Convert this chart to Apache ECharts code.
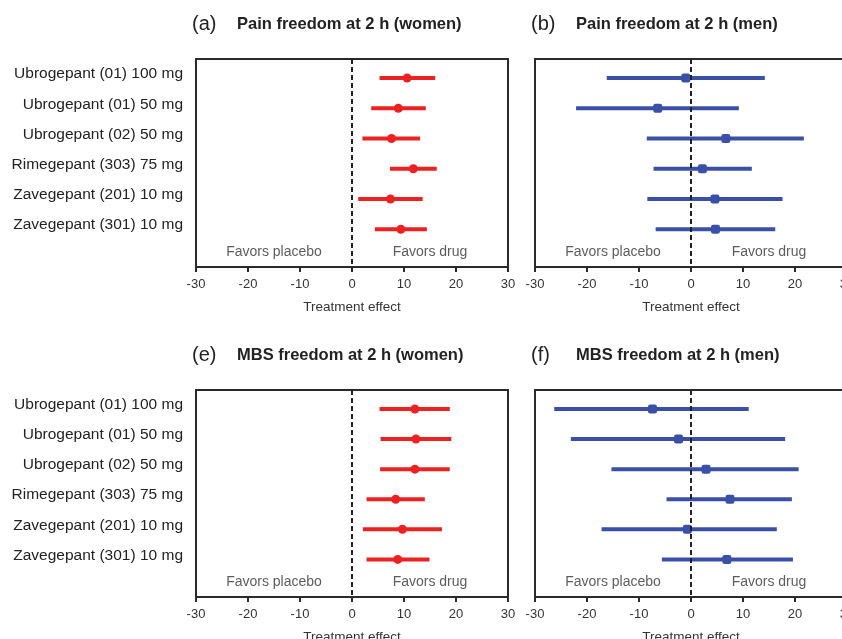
<!DOCTYPE html>
<html>
<head>
<meta charset="utf-8">
<script src="https://cdn.jsdelivr.net/npm/echarts@6/dist/echarts.min.js"></script>
<style>
  html, body { margin: 0; padding: 0; background: #fff; }
  #main { width: 842px; height: 639px; }
</style>
</head>
<body>
<div id="main"></div>
<script>
var myChart = echarts.init(document.getElementById('main'));

// studies (rows, top to bottom)
const studies = [
    'Ubrogepant (01) 100 mg',
    'Ubrogepant (01) 50 mg',
    'Ubrogepant (02) 50 mg',
    'Rimegepant (303) 75 mg',
    'Zavegepant (201) 10 mg',
    'Zavegepant (301) 10 mg'
]
const xTicks = [-30, -20, -10, 0, 10, 20, 30]
const favorsLabels = [['Favors placebo', -15], ['Favors drug', 15]]

// (a) pain freedom, women: [estimate, lower, upper]
const painWomen = [
    [10.6, 5.3, 16.0],
    [8.9, 3.7, 14.2],
    [7.6, 2.0, 13.1],
    [11.8, 7.3, 16.3],
    [7.4, 1.2, 13.6],
    [9.4, 4.4, 14.4]
]
// (b) pain freedom, men
const painMen = [
    [-1.0, -16.2, 14.2],
    [-6.4, -22.1, 9.2],
    [6.7, -8.5, 21.7],
    [2.2, -7.2, 11.7],
    [4.6, -8.4, 17.6],
    [4.7, -6.8, 16.2]
]
// (e) MBS freedom, women
const mbsWomen = [
    [12.1, 5.3, 18.8],
    [12.3, 5.5, 19.1],
    [12.1, 5.4, 18.8],
    [8.4, 2.8, 14.0],
    [9.7, 2.1, 17.3],
    [8.8, 2.8, 14.9]
]
// (f) MBS freedom, men
const mbsMen = [
    [-7.4, -26.3, 11.1],
    [-2.4, -23.1, 18.1],
    [2.9, -15.3, 20.7],
    [7.5, -4.7, 19.4],
    [-0.7, -17.2, 16.5],
    [6.9, -5.6, 19.6]
]

const panels = [
    { tag: '(a)', title: 'Pain freedom at 2 h (women)', data: painWomen, color: '#ec2222', symbol: 'circle', left: 196, top: 59, height: 208, showNames: true },
    { tag: '(b)', title: 'Pain freedom at 2 h (men)', data: painMen, color: '#3a4fa6', symbol: 'roundRect', left: 535, top: 59, height: 208, showNames: false },
    { tag: '(e)', title: 'MBS freedom at 2 h (women)', data: mbsWomen, color: '#ec2222', symbol: 'circle', left: 196, top: 390, height: 207, showNames: true },
    { tag: '(f)', title: 'MBS freedom at 2 h (men)', data: mbsMen, color: '#3a4fa6', symbol: 'roundRect', left: 535, top: 390, height: 207, showNames: false }
]

const FONT = 'Arial, "Liberation Sans", Helvetica, sans-serif'
const ROW_MIN = 0.37
const ROW_MAX = 7.25
const FAVORS_ROW = 6.76

const grid = [], xAxis = [], yAxis = [], series = [], title = []

panels.forEach((p, i) => {
    grid.push({
        left: p.left, top: p.top, width: 312, height: p.height,
        outerBoundsMode: 'none', containLabel: false,
        show: true, borderColor: '#2a2a2a', borderWidth: 2, backgroundColor: 'transparent'
    })
    title.push({
        left: p.left - 4, top: p.top - 47,
        padding: 0,
        text: '{p|' + p.tag + '}{t|' + p.title + '}',
        textStyle: {
            rich: {
                p: { fontFamily: FONT, fontSize: 20, fontWeight: 'normal', color: '#222', width: 45, lineHeight: 24 },
                t: { fontFamily: FONT, fontSize: 16.5, fontWeight: 'bold', color: '#222', lineHeight: 24 }
            }
        }
    })
    xAxis.push({
        gridIndex: i, type: 'value', min: -30, max: 30, interval: 10,
        name: 'Treatment effect', nameLocation: 'middle', nameGap: 33,
        nameTextStyle: { fontFamily: FONT, fontSize: 13.5, color: '#333' },
        axisLine: { show: true, onZero: false, lineStyle: { color: '#2a2a2a', width: 2 } },
        axisTick: { show: true, inside: false, length: 5, lineStyle: { color: '#2a2a2a', width: 2 } },
        axisLabel: { fontFamily: FONT, fontSize: 13, color: '#333', margin: 11,
            customValues: xTicks },
        splitLine: { show: false }
    })
    yAxis.push({
        gridIndex: i, type: 'value', inverse: true, min: ROW_MIN, max: ROW_MAX,
        axisLine: { show: false },
        axisTick: { show: false },
        splitLine: { show: false },
        axisLabel: {
            show: p.showNames,
            customValues: [1, 2, 3, 4, 5, 6],
            formatter: (v) => '{n|' + (studies[Math.round(v) - 1] || '') + '}',
            margin: 13,
            rich: {
                n: { fontFamily: FONT, fontSize: 15.5, color: '#222', padding: [0, 0, 8, 0] }
            }
        }
    })
    // confidence interval bars
    series.push({
        type: 'custom',
        xAxisIndex: i, yAxisIndex: i,
        data: p.data.map((d, k) => [d[1], d[2], k + 1]),
        renderItem: (params, api) => {
            const a = api.coord([api.value(0), api.value(2)])
            const b = api.coord([api.value(1), api.value(2)])
            return {
                type: 'line',
                shape: { x1: a[0], y1: a[1], x2: b[0], y2: b[1] },
                style: { stroke: p.color, lineWidth: 4, lineCap: 'butt' }
            }
        },
        z: 3
    })
    // point estimates
    series.push({
        type: 'scatter',
        xAxisIndex: i, yAxisIndex: i,
        symbol: p.symbol, symbolSize: 9,
        itemStyle: { color: p.color, opacity: 1 },
        data: p.data.map((d, k) => [d[0], k + 1]),
        z: 4,
        markLine: {
            silent: true, symbol: 'none',
            label: { show: false },
            lineStyle: { color: '#222', type: [5, 3], width: 2 },
            data: [{ xAxis: 0 }],
            z: 6
        }
    })
    // favors annotations
    series.push({
        type: 'scatter',
        xAxisIndex: i, yAxisIndex: i,
        symbolSize: 0,
        silent: true,
        data: favorsLabels.map((f) => ({ name: f[0], value: [f[1], FAVORS_ROW] })),
        label: {
            show: true, position: 'inside', formatter: '{b}',
            fontFamily: FONT, fontSize: 14, color: '#333'
        }
    })
})

option = {
    animation: false,
    backgroundColor: '#fff',
    title: title,
    grid: grid,
    xAxis: xAxis,
    yAxis: yAxis,
    series: series
};

myChart.setOption(option)
</script>
</body>
</html>
